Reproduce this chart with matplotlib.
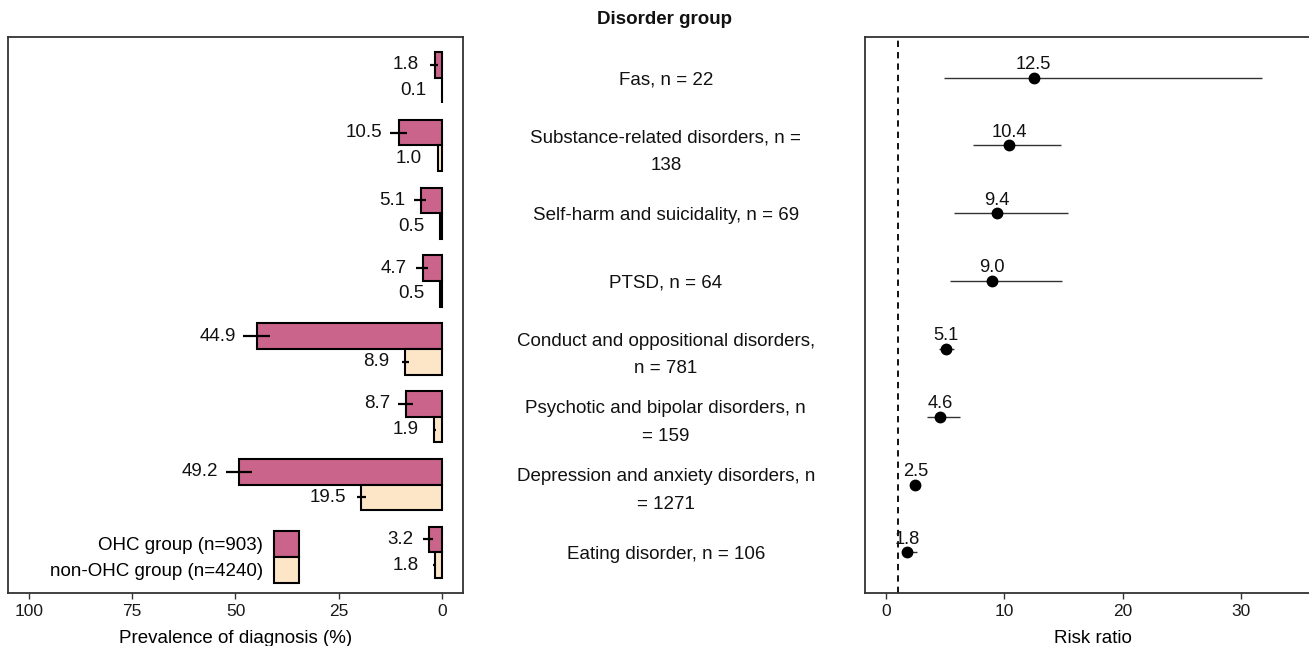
import matplotlib
matplotlib.use("Agg")
import matplotlib.pyplot as plt
from matplotlib.patches import Patch
import numpy as np

plt.rcParams["font.family"] = ["Liberation Sans", "DejaVu Sans"]

# Disorder groups, top to bottom
categories = [
    "Fas, n = 22",
    "Substance-related disorders, n =\n138",
    "Self-harm and suicidality, n = 69",
    "PTSD, n = 64",
    "Conduct and oppositional disorders,\nn = 781",
    "Psychotic and bipolar disorders, n\n= 159",
    "Depression and anxiety disorders, n\n= 1271",
    "Eating disorder, n = 106",
]

# Prevalence (%) with 95% CI
ohc_prev = [1.8, 10.5, 5.1, 4.7, 44.9, 8.7, 49.2, 3.2]
ohc_lo = [1.0, 8.6, 3.8, 3.5, 41.7, 7.0, 46.0, 2.2]
ohc_hi = [3.0, 12.7, 6.8, 6.2, 48.1, 10.7, 52.4, 4.5]

non_prev = [0.1, 1.0, 0.5, 0.5, 8.9, 1.9, 19.5, 1.8]
non_lo = [0.0, 0.7, 0.3, 0.3, 8.1, 1.5, 18.5, 1.5]
non_hi = [0.2, 1.3, 0.8, 0.8, 9.8, 2.3, 20.6, 2.3]

# Risk ratio with 95% CI
rr = [12.5, 10.4, 9.4, 9.0, 5.1, 4.6, 2.5, 1.8]
rr_lo = [4.9, 7.4, 5.8, 5.4, 4.5, 3.5, 2.2, 1.4]
rr_hi = [31.8, 14.8, 15.4, 14.9, 5.8, 6.3, 2.8, 2.6]

prev_ticks = [100, 75, 50, 25, 0]
rr_ticks = [0, 10, 20, 30]

legend_labels = ["OHC group (n=903)", "non-OHC group (n=4240)"]

PINK = "#CB648A"
CREAM = "#FDE6C8"
FRAME = "#333333"
FS = 13.5
TICK_FS = 12.5

W, H = 1309, 646
fig = plt.figure(figsize=(W / 100, H / 100), dpi=100)

def fx(px):
    return px / W

def fy(py):
    return 1 - py / H

top, bottom = 37, 593
ax_l = fig.add_axes([fx(8.3), fy(bottom), fx(462.7 - 8.3), fy(top) - fy(bottom)])
ax_m = fig.add_axes([fx(462.7), fy(bottom), fx(865 - 462.7), fy(top) - fy(bottom)])
ax_r = fig.add_axes([fx(865), fy(bottom), fx(1321 - 865), fy(top) - fy(bottom)])

y = np.arange(1, len(categories) + 1)
bh = 0.38

for ax in (ax_l, ax_m, ax_r):
    ax.set_ylim(8.6, 0.4)

# ---- Left: prevalence bars ----
ax_l.barh(y - bh / 2, ohc_prev, height=bh, color=PINK, edgecolor="black",
          linewidth=1.5, zorder=2)
ax_l.barh(y + bh / 2, non_prev, height=bh, color=CREAM, edgecolor="black",
          linewidth=1.5, zorder=2)
ax_l.hlines(y - bh / 2, ohc_lo, ohc_hi, color="black", linewidth=1.6, zorder=3)
ax_l.hlines(y + bh / 2, non_lo, non_hi, color="black", linewidth=1.6, zorder=3)

for yi, v, hi in zip(y - bh / 2, ohc_prev, ohc_hi):
    ax_l.text(max(hi + 1.8, v + 3.8), yi, f"{v:.1f}", ha="right", va="center",
              fontsize=FS, color="#111111")
for yi, v, hi in zip(y + bh / 2, non_prev, non_hi):
    ax_l.text(max(hi + 1.8, v + 3.8), yi, f"{v:.1f}", ha="right", va="center",
              fontsize=FS, color="#111111")

ax_l.set_xlim(105, -5)
ax_l.set_xticks(prev_ticks)
ax_l.set_xticklabels([str(t) for t in prev_ticks])
ax_l.set_yticks([])
ax_l.set_xlabel("Prevalence of diagnosis (%)", fontsize=FS, labelpad=8)

handles = [Patch(facecolor=PINK, edgecolor="black", linewidth=1.5),
           Patch(facecolor=CREAM, edgecolor="black", linewidth=1.5)]
ax_l.legend(handles, legend_labels, loc="lower right",
            bbox_to_anchor=(0.6404, 0.018), bbox_transform=ax_l.transAxes,
            frameon=False, markerfirst=False, fontsize=FS,
            handlelength=1.33, handleheight=1.76, labelspacing=0.0,
            handletextpad=0.6, borderaxespad=0.0, borderpad=0.0)

# ---- Middle: category labels ----
ax_m.set_xlim(0, 1)
ax_m.axis("off")
for yi, lab in zip(y, categories):
    shift = 0.03 + 0.06 * lab.count("\n")
    ax_m.text(0.505, yi + shift, lab, ha="center", va="center", fontsize=FS,
              linespacing=1.82, color="#111111")
fig.text(fx(664), fy(20), "Disorder group", ha="center", va="center",
         fontsize=FS, fontweight="bold", color="#111111")

# ---- Right: risk ratios ----
ax_r.axvline(1, color="black", linewidth=1.3, linestyle=(0, (3.5, 2.8)), zorder=1)
ax_r.hlines(y, rr_lo, rr_hi, color="#333333", linewidth=1.0, zorder=2)
ax_r.plot(rr, y, "o", color="black", markersize=7.5, zorder=3)
for yi, v in zip(y, rr):
    ax_r.annotate(f"{v:.1f}", (v, yi), xytext=(0, 9.5), textcoords="offset points",
                  ha="center", va="center", fontsize=FS - 0.3, color="#111111")
ax_r.set_xlim(-1.75, 36.75)
ax_r.set_xticks(rr_ticks)
ax_r.set_xticklabels([str(t) for t in rr_ticks])
ax_r.set_yticks([])
ax_r.set_xlabel("Risk ratio", fontsize=FS, labelpad=8)
ax_r.spines["right"].set_visible(False)

for ax in (ax_l, ax_r):
    for s in ax.spines.values():
        s.set_color(FRAME)
        s.set_linewidth(1.3)
    ax.tick_params(axis="x", length=4, width=1.0, color=FRAME, labelsize=TICK_FS,
                   labelcolor="#1a1a1a", pad=4)

fig.savefig("out.png", dpi=100)
